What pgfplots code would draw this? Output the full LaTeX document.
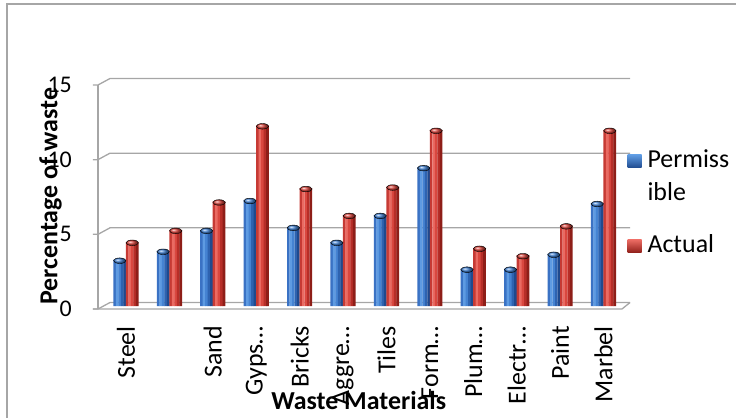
\documentclass[border=0pt]{standalone}
\usepackage{pgfplots}
\usepackage{pgfplotstable}
\pgfplotsset{compat=1.18}
\usepackage{fontspec}
\setmainfont{Carlito}
\definecolor{gridgray}{HTML}{A6A6A6}
\definecolor{b1}{HTML}{3A72C4}
\definecolor{b2}{HTML}{5E9BE2}
\definecolor{b3}{HTML}{4583D2}
\definecolor{b4}{HTML}{2E63B0}
\definecolor{b5}{HTML}{1F4A8E}
\definecolor{r1}{HTML}{C63A34}
\definecolor{r2}{HTML}{EA6A62}
\definecolor{r3}{HTML}{D9473F}
\definecolor{r4}{HTML}{B72E28}
\definecolor{r5}{HTML}{8E1E18}

% i  permissible  actual
\pgfplotstableread{
i perm act
0 3.1 4.3
1 3.7 5.1
2 5.1 7.0
3 7.1 12.1
4 5.3 7.9
5 4.3 6.1
6 6.1 8.0
7 9.3 11.8
8 2.5 3.9
9 2.5 3.4
10 3.5 5.4
11 6.9 11.8
}\wastedata

\newcommand\stripe[3]{%
  \addplot[ybar, draw=none, fill=#2, bar width=2.7bp, bar shift=#1, forget plot]
    table[x=i, y=#3] {\wastedata};}
\newcommand\barcap[3]{%
  \addplot[only marks, mark=ball, mark size=6.2bp, forget plot,
    mark options={ball color=#2, xshift=#1, yshift=-1bp, yscale=0.45}]
    table[x=i, y=#3] {\wastedata};}

\pgfplotsset{sqlegend/.style={draw=none,
  legend image code/.code={\path[##1] (0bp,-6.5bp) rectangle (14bp,6.5bp);}}}

\begin{document}
\begin{tikzpicture}
\path[use as bounding box] (0,0) rectangle (736bp,418bp);
\draw[gridgray, line width=1.2bp] (7bp,-5bp) rectangle (750bp,414bp);
\begin{axis}[
  at={(98bp,112bp)}, anchor=south west,
  scale only axis, width=532bp, height=224bp,
  xmin=-0.645, xmax=11.61, ymin=0, ymax=15,
  clip=false,
  axis line style={draw=none},
  ytick={0,5,10,15}, xtick={0,...,11},
  xticklabels={Steel,{},Sand,Gyps…,Bricks,Aggre…,Tiles,Form…,Plum…,Electr…,Paint,Marbel},
  major tick length=0pt,
  /pgf/number format/assume math mode=true,
  yticklabel style={font=\fontsize{24}{24}\selectfont, inner sep=0pt, xshift=-26bp, yshift=-3bp},
  xticklabel style={font=\fontsize{26}{26}\selectfont, rotate=90, anchor=east, inner sep=0pt, xshift=-3bp},
  xticklabel shift=17bp,
  xlabel={Waste Materials},
  xlabel style={font=\bfseries\fontsize{26}{26}\selectfont, at={(axis description cs:0.49,-0.424)}, anchor=center},
  ylabel={Percentage of waste},
  ylabel style={font=\bfseries\fontsize{26}{26}\selectfont, at={(axis description cs:-0.089,0.49)}, anchor=center, rotate=0},
  legend style={at={(axis description cs:0.995,0.70)}, anchor=north west, draw=none, fill=none,
    font=\fontsize{26}{26}\selectfont, cells={anchor=west},
    nodes={text height=18bp, text depth=6bp, inner sep=0pt},
    row sep=9bp, column sep=6bp, inner sep=0pt},
]
% back wall gridlines, front ticks and floor
\pgfplotsinvokeforeach{0,5,10,15}{
  \draw[gridgray, line width=1.3bp]
    ([xshift=-5bp,yshift=-3bp]axis cs:-0.645,#1) -- ([yshift=-3bp]axis cs:-0.645,#1)
    -- ([xshift=12bp,yshift=3.5bp]axis cs:-0.645,#1) -- ([yshift=3.5bp]axis cs:11.61,#1);
}
\draw[gridgray, line width=1.3bp]
  ([yshift=-3bp]axis cs:-0.645,0) -- ([yshift=-3bp]axis cs:-0.645,15);
\draw[gridgray, line width=1.3bp]
  ([xshift=-5bp,yshift=-3bp]axis cs:-0.645,0) -- ([xshift=-8bp,yshift=-3bp]axis cs:11.61,0)
  -- ([yshift=3.5bp]axis cs:11.61,0);

% Permissible
\stripe{-11.25bp}{b1}{perm}
\stripe{-8.75bp}{b2}{perm}
\stripe{-6.25bp}{b3}{perm}
\stripe{-3.75bp}{b4}{perm}
\stripe{-1.25bp}{b5}{perm}
\barcap{-6.25bp}{b3}{perm}
% Actual
\stripe{1.25bp}{r1}{act}
\stripe{3.75bp}{r2}{act}
\stripe{6.25bp}{r3}{act}
\stripe{8.75bp}{r4}{act}
\stripe{11.25bp}{r5}{act}
\barcap{6.25bp}{r3}{act}

\addlegendimage{sqlegend, top color=b2, bottom color=b5}
\addlegendentry{Permiss}
\addlegendimage{empty legend}
\addlegendentry[text depth=25bp]{ible}
\addlegendimage{sqlegend, top color=r2, bottom color=r5}
\addlegendentry{Actual}
\end{axis}
\end{tikzpicture}
\end{document}
